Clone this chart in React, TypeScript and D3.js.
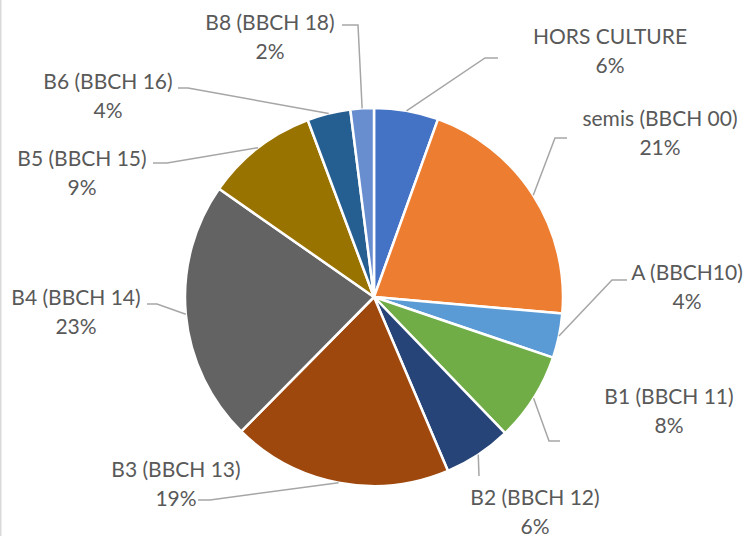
import React from "react";
import * as d3 from "d3";

const categories = [
  "HORS CULTURE",
  "semis (BBCH 00)",
  "A (BBCH10)",
  "B1 (BBCH 11)",
  "B2 (BBCH 12)",
  "B3 (BBCH 13)",
  "B4 (BBCH 14)",
  "B5 (BBCH 15)",
  "B6 (BBCH 16)",
  "B8 (BBCH 18)",
];
const values = [5.5, 20.9, 3.8, 7.6, 5.8, 18.8, 22.3, 9.6, 3.7, 2.0];
const percentLabels = ["6%", "21%", "4%", "8%", "6%", "19%", "23%", "9%", "4%", "2%"];
const colors = [
  "#4472C4",
  "#ED7D31",
  "#5B9BD5",
  "#70AD47",
  "#264478",
  "#9E480E",
  "#636363",
  "#997300",
  "#255E91",
  "#698ED0",
];

// layout: label text centre x, first-line baseline y, and leader elbow points
const labelLayout = [
  { x: 610, y: 44, elbow: [[485, 58], [498, 58]] },
  { x: 660, y: 126, elbow: [[555, 138], [567, 138]] },
  { x: 687, y: 280, elbow: [[612, 280], [627, 280]] },
  { x: 669, y: 404, elbow: [[549, 441], [560, 441]] },
  { x: 535, y: 505, elbow: [[479, 476]] },
  { x: 176, y: 477, elbow: [[210, 500], [198, 500]] },
  { x: 76, y: 305, elbow: [[157, 304], [147, 304]] },
  { x: 82, y: 166, elbow: [[167, 163], [153, 163]] },
  { x: 108, y: 89, elbow: [[188, 88], [178, 88]] },
  { x: 270, y: 30, elbow: [[358, 25], [342, 25]] },
];

const W = 744;
const H = 536;
const cx = 374;
const cy = 297;
const R = 189;

export default function App() {
  const pie = d3
    .pie<number>()
    .sort(null)
    .value((d) => d)
    .startAngle(0)
    .endAngle(2 * Math.PI);
  const arcs = pie(values);
  const arc = d3.arc<d3.PieArcDatum<number>>().innerRadius(0).outerRadius(R);
  const line = d3.line();

  return (
    <svg
      width={W}
      height={H}
      style={{ position: "absolute", left: 0, top: 0, display: "block", background: "#fff" }}
      fontFamily="Lato, 'Open Sans', sans-serif"
    >
      <rect x={0} y={0} width={W} height={H} fill="#fff" />
      <line x1={0.75} y1={0} x2={0.75} y2={H} stroke="#D9D9D9" strokeWidth={1.5} />
      <g transform={`translate(${cx},${cy})`}>
        {arcs.map((a, i) => (
          <path key={i} d={arc(a) || ""} fill={colors[i]} stroke="#fff" strokeWidth={2.5} strokeLinejoin="round" />
        ))}
      </g>
      {arcs.map((a, i) => {
        const mid = (a.startAngle + a.endAngle) / 2;
        const sx = cx + R * Math.sin(mid);
        const sy = cy - R * Math.cos(mid);
        const pts: [number, number][] = [[sx, sy], ...(labelLayout[i].elbow as [number, number][])];
        return (
          <path key={"l" + i} d={line(pts) || ""} fill="none" stroke="#A6A6A6" strokeWidth={1.5} />
        );
      })}
      {categories.map((c, i) => (
        <text key={"t" + i} textAnchor="middle" fill="#595959" fontSize={21}>
          <tspan x={labelLayout[i].x} y={labelLayout[i].y}>
            {c}
          </tspan>
          <tspan x={labelLayout[i].x} y={labelLayout[i].y + 29}>
            {percentLabels[i]}
          </tspan>
        </text>
      ))}
    </svg>
  );
}
